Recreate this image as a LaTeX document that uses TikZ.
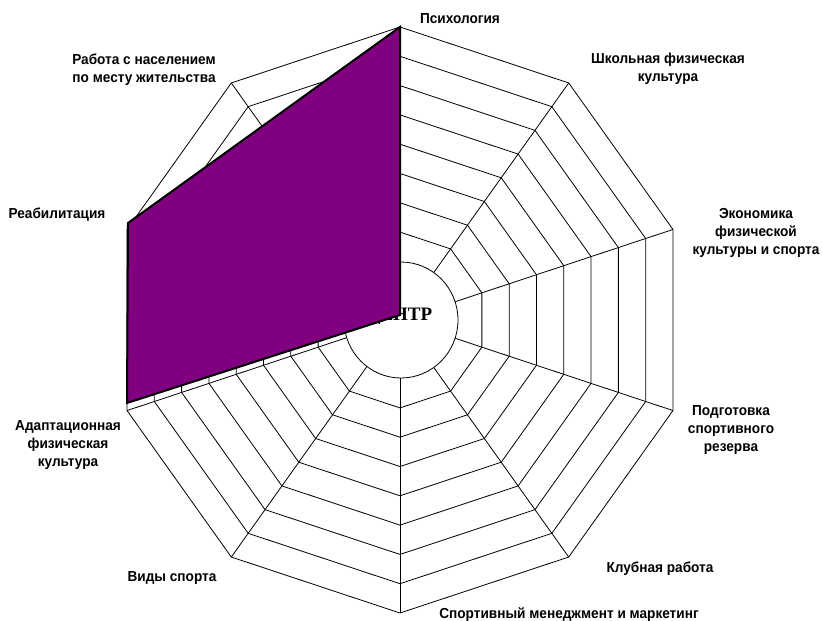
\documentclass[tikz,border=0pt]{standalone}
\usepackage{fontspec}
\setmainfont{Liberation Serif}
\newfontfamily\labelfont{Liberation Sans}[FakeStretch=0.94]
\definecolor{chartpurple}{HTML}{800080}

\begin{document}
\begin{tikzpicture}[x=1pt,y=-1pt]
\tikzstyle{axislabel}=[align=center,inner sep=0pt,font=\labelfont\bfseries\fontsize{14.5}{18.3}\selectfont]
\tikzstyle{gridline}=[draw=black,line width=0.8pt]
\useasboundingbox (0,0) rectangle (822,621);
\foreach \k in {0,...,9}
  \draw[gridline] (400,320) -- ({400+287*cos(90-36*\k)},{320-293*sin(90-36*\k)});
\foreach \j in {3,...,10}
  \draw[gridline] (400,{320-29.3*\j}) \foreach \k in {1,...,9} { -- ({400+28.7*\j*cos(90-36*\k)},{320-29.3*\j*sin(90-36*\k)}) } -- cycle;
\draw[gridline,fill=white] (401,320) ellipse [x radius=57,y radius=58];
\node[inner sep=0pt,font=\bfseries\fontsize{19}{19}\selectfont] (centre) at (399,316) {ЦЕНТР};
\draw[line width=2pt,fill=chartpurple] (400,27) -- (400,315) -- (127,403) -- (128,223) -- cycle;
\node[axislabel] (psych) at (460,19) {Психология};
\node[axislabel] (school) at (668,69) {Школьная физическая\\культура};
\node[axislabel] (econ) at (756,233) {Экономика\\физической\\культуры и спорта};
\node[axislabel] (reserve) at (731,430) {Подготовка\\спортивного\\резерва};
\node[axislabel] (club) at (660,569) {Клубная работа};
\node[axislabel] (mgmt) at (569,615) {Спортивный менеджмент и маркетинг};
\node[axislabel] (sports) at (172,578) {Виды спорта};
\node[axislabel] (adapt) at (68,445) {Адаптационная\\физическая\\культура};
\node[axislabel] (rehab) at (57,215) {Реабилитация};
\node[axislabel] (community) at (144,70) {Работа с населением\\по месту жительства};
\end{tikzpicture}
\end{document}
